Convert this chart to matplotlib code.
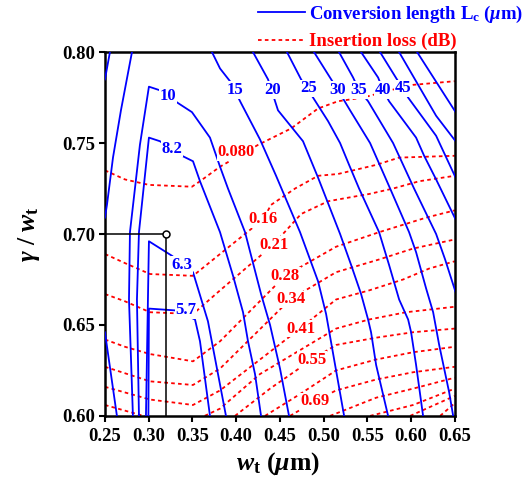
import matplotlib
matplotlib.use('Agg')
import matplotlib.pyplot as plt
from matplotlib.lines import Line2D

plt.rcParams['font.family'] = 'Liberation Serif'
plt.rcParams['font.weight'] = 'bold'
plt.rcParams['mathtext.fontset'] = 'custom'
plt.rcParams['mathtext.rm'] = 'Liberation Serif:bold'
plt.rcParams['mathtext.it'] = 'Liberation Serif:italic:bold'
plt.rcParams['mathtext.bf'] = 'Liberation Serif:bold'

# ---------- conversion length Lc (um) contours, traced (w_t, gamma/w_t) ----------
lc_lines = [
    # 5.7
    ([0.2997, 0.3003, 0.3301, 0.3530, 0.3587, 0.3701],
     [0.600, 0.659, 0.658, 0.653, 0.641, 0.600]),
    # 6.3
    ([0.2969, 0.3003, 0.3267, 0.3507, 0.3678, 0.3793, 0.3884],
     [0.600, 0.696, 0.688, 0.679, 0.652, 0.623, 0.600]),
    # 8.2
    ([0.2889, 0.2866, 0.2889, 0.3003, 0.3129, 0.3381, 0.3507, 0.3587, 0.3816,
      0.3965, 0.4079, 0.4136, 0.4216, 0.4285],
     [0.600, 0.664, 0.701, 0.753, 0.751, 0.743, 0.740, 0.729, 0.701,
      0.677, 0.657, 0.641, 0.623, 0.600]),
    # 10
    ([0.2820, 0.2775, 0.2786, 0.2900, 0.3003, 0.3129, 0.3335, 0.3495, 0.3701,
      0.3816, 0.3907, 0.4102, 0.4285, 0.4388, 0.4502, 0.4605],
     [0.600, 0.664, 0.701, 0.749, 0.781, 0.779, 0.772, 0.767, 0.753,
      0.737, 0.725, 0.701, 0.667, 0.650, 0.626, 0.600]),
    # 15
    ([0.3724, 0.3816, 0.3930, 0.4056, 0.4273, 0.4457, 0.4731, 0.4937, 0.5029,
      0.5143, 0.5235],
     [0.800, 0.791, 0.784, 0.772, 0.752, 0.732, 0.701, 0.674, 0.656, 0.625, 0.600]),
    # 15 (left branch)
    ([0.2809, 0.2683, 0.2592, 0.2523, 0.2500],
     [0.800, 0.768, 0.742, 0.716, 0.709]),
    # 20 (left branch)
    ([0.2557, 0.2500], [0.800, 0.785]),
    # lower left piece
    ([0.2500, 0.2637], [0.646, 0.600]),
    # 20
    ([0.4193, 0.4365, 0.4479, 0.4765, 0.4937, 0.5189, 0.5315, 0.5429, 0.5509,
      0.5543, 0.5601, 0.5738],
     [0.800, 0.785, 0.768, 0.751, 0.731, 0.700, 0.683, 0.667, 0.653, 0.646,
      0.628, 0.600]),
    # 25
    ([0.4582, 0.4743, 0.4880, 0.5052, 0.5189, 0.5292, 0.5406, 0.5635, 0.5749,
      0.5864, 0.5967, 0.6001, 0.6058, 0.6138],
     [0.800, 0.785, 0.775, 0.762, 0.750, 0.738, 0.725, 0.701, 0.683, 0.664,
      0.653, 0.646, 0.628, 0.600]),
    # 30
    ([0.4891, 0.5074, 0.5166, 0.5303, 0.5532, 0.5761, 0.5978, 0.6058, 0.6173,
      0.6253, 0.6322, 0.6436, 0.6482],
     [0.800, 0.786, 0.779, 0.768, 0.750, 0.725, 0.701, 0.690, 0.670, 0.657,
      0.639, 0.613, 0.600]),
    # 35
    ([0.5177, 0.5338, 0.5406, 0.5509, 0.5795, 0.6035, 0.6287, 0.6390, 0.6510],
     [0.800, 0.786, 0.779, 0.773, 0.750, 0.725, 0.700, 0.686, 0.668]),
    # 40
    ([0.5429, 0.5624, 0.5681, 0.5749, 0.6058, 0.6150, 0.6287, 0.6510],
     [0.800, 0.786, 0.779, 0.773, 0.753, 0.743, 0.730, 0.708]),
    # 45
    ([0.5646, 0.5852, 0.5910, 0.5967, 0.6287, 0.6510],
     [0.800, 0.784, 0.780, 0.775, 0.754, 0.731]),
    # 50
    ([0.5864, 0.6287, 0.6510], [0.800, 0.765, 0.751]),
    # 55
    ([0.6070, 0.6510], [0.800, 0.767]),
]

lc_labels = ['5.7', '6.3', '8.2', '10', '15', '20', '25', '30', '35', '40', '45']
lc_label_x = [0.3427, 0.3381, 0.3267, 0.3221, 0.3987, 0.4422, 0.4834, 0.5166,
              0.5406, 0.5681, 0.5910]
lc_label_y = [0.658, 0.683, 0.747, 0.776, 0.779, 0.779, 0.780, 0.779, 0.779,
              0.779, 0.780]

# ---------- insertion loss (dB) contours ----------
il_lines = [
    # 0.080
    ([0.25, 0.2729, 0.3003, 0.3495, 0.3587, 0.3816, 0.4251, 0.4628, 0.4937,
      0.5166, 0.5452, 0.5761, 0.6024, 0.65],
     [0.735, 0.730, 0.727, 0.726, 0.729, 0.737, 0.749, 0.758, 0.769, 0.773,
      0.775, 0.779, 0.782, 0.784]),
    # 0.16
    ([0.25, 0.2729, 0.3015, 0.3507, 0.3816, 0.4308, 0.4399, 0.4674, 0.4937,
      0.5166, 0.5601, 0.5864, 0.65],
     [0.689, 0.684, 0.678, 0.677, 0.689, 0.708, 0.716, 0.725, 0.732, 0.733,
      0.738, 0.742, 0.743]),
    # 0.21
    ([0.25, 0.2729, 0.3015, 0.3507, 0.3816, 0.4422, 0.4743, 0.5052, 0.5166,
      0.5521, 0.5795, 0.6093, 0.65],
     [0.667, 0.663, 0.657, 0.656, 0.669, 0.694, 0.711, 0.718, 0.719, 0.722,
      0.725, 0.729, 0.732]),
    # 0.28
    ([0.25, 0.2729, 0.3015, 0.3507, 0.3816, 0.4559, 0.5143, 0.5635, 0.6173, 0.65],
     [0.642, 0.638, 0.634, 0.630, 0.641, 0.677, 0.693, 0.701, 0.709, 0.713]),
    # 0.34
    ([0.25, 0.3015, 0.3507, 0.3816, 0.4617, 0.5143, 0.5635, 0.6024, 0.65],
     [0.627, 0.619, 0.617, 0.626, 0.664, 0.679, 0.686, 0.692, 0.697]),
    # 0.41
    ([0.25, 0.3015, 0.3507, 0.3816, 0.4731, 0.5143, 0.5521, 0.5910, 0.6207, 0.65],
     [0.616, 0.609, 0.606, 0.614, 0.648, 0.664, 0.669, 0.675, 0.681, 0.685]),
    # 0.48
    ([0.25, 0.3015, 0.3507, 0.3816, 0.4273, 0.5143, 0.5521, 0.5944, 0.65],
     [0.606, 0.599, 0.597, 0.604, 0.623, 0.648, 0.653, 0.657, 0.660]),
    # 0.55
    ([0.3987, 0.4388, 0.4868, 0.5143, 0.5601, 0.6024, 0.65],
     [0.600, 0.615, 0.631, 0.639, 0.643, 0.646, 0.648]),
    # 0.62
    ([0.4330, 0.4731, 0.5143, 0.5601, 0.6024, 0.65],
     [0.600, 0.612, 0.625, 0.631, 0.635, 0.638]),
    # 0.69
    ([0.4616, 0.4899, 0.5143, 0.5601, 0.6024, 0.65],
     [0.600, 0.608, 0.614, 0.620, 0.624, 0.627]),
    # 0.76
    ([0.5074, 0.5601, 0.6024, 0.65],
     [0.600, 0.610, 0.615, 0.621]),
    # 0.83
    ([0.5532, 0.6024, 0.65], [0.600, 0.606, 0.615]),
    # 0.90
    ([0.5990, 0.65], [0.600, 0.611]),
    # 0.97
    ([0.6333, 0.65], [0.600, 0.607]),
]

il_labels = ['0.080', '0.16', '0.21', '0.28', '0.34', '0.41', '0.55', '0.69']
il_label_x = [0.3999, 0.4308, 0.4430, 0.4564, 0.4622, 0.4736, 0.4868, 0.4899]
il_label_y = [0.745, 0.708, 0.694, 0.677, 0.664, 0.648, 0.631, 0.608]

# chosen design point
mark_x = 0.32
mark_y = 0.70

x_ticks = [0.25, 0.30, 0.35, 0.40, 0.45, 0.50, 0.55, 0.60, 0.65]
y_ticks = [0.60, 0.65, 0.70, 0.75, 0.80]

# ---------- figure ----------
fig = plt.figure(figsize=(5.3, 4.87), dpi=100)
ax = fig.add_axes([0.198, 0.146, 0.660, 0.747])

for xs, ys in lc_lines:
    ax.plot(xs, ys, color='#0000ff', lw=1.3, zorder=3)
for xs, ys in il_lines:
    ax.plot(xs, ys, color='#ff0000', lw=1.3, ls=(0, (2.0, 1.8)), zorder=2)

box = dict(facecolor='white', edgecolor='none', pad=0.6)
for s, x, y in zip(lc_labels, lc_label_x, lc_label_y):
    ax.text(x, y, s, color='#0000ff', fontsize=12, fontweight='bold',
            ha='center', va='center', bbox=box, zorder=5)
for s, x, y in zip(il_labels, il_label_x, il_label_y):
    ax.text(x, y, s, color='#ff0000', fontsize=12, fontweight='bold',
            ha='center', va='center', bbox=box, zorder=4)

ax.plot([0.25, mark_x], [mark_y, mark_y], color='black', lw=1.1, zorder=6)
ax.plot([mark_x, mark_x], [mark_y, 0.60], color='black', lw=1.1, zorder=6)
ax.plot(mark_x, mark_y, 'o', mfc='white', mec='black', mew=1.1, ms=5, zorder=7)

ax.set_xlim(0.25, 0.65)
ax.set_ylim(0.60, 0.80)
ax.set_xticks(x_ticks)
ax.set_yticks(y_ticks)
ax.set_xticklabels(['%.2f' % v for v in x_ticks])
ax.set_yticklabels(['%.2f' % v for v in y_ticks])
ax.tick_params(direction='out', length=4, width=1.5, labelsize=13.5)
ax.tick_params(axis='x', pad=5)
ax.tick_params(axis='y', pad=3)
for sp in ax.spines.values():
    sp.set_linewidth(1.8)

ax.set_xlabel(r'$w_\mathrm{t}$ ($\mu$m)', fontsize=18.5, fontweight='bold')
ax.set_ylabel(r'$\gamma$ / $w_\mathrm{t}$', fontsize=18.5, fontweight='bold')
ax.xaxis.set_label_coords(0.494, -0.095)
ax.yaxis.set_label_coords(-0.18, 0.5)

handles = [Line2D([], [], color='#0000ff', lw=1.3),
           Line2D([], [], color='#ff0000', lw=1.3, ls=(0, (2.0, 1.8)))]
labels = [r'Conversion length L$_\mathrm{c}$ ($\mu$m)', 'Insertion loss (dB)']
fig.legend(handles, labels, loc='upper left', bbox_to_anchor=(0.47, 1.012),
           frameon=False, fontsize=13.5, handlelength=2.5, handletextpad=0.2,
           labelspacing=0.45, borderpad=0, labelcolor=['#0000ff', '#ff0000'])

fig.savefig('out.png', dpi=100)
